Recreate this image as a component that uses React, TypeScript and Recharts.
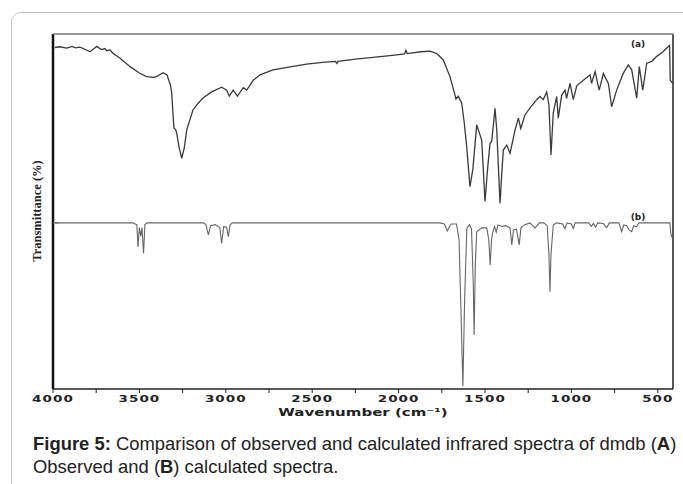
import { LineChart, Line, XAxis, YAxis, ReferenceLine, ReferenceDot } from 'recharts';

// observed spectrum (a): [wavenumber, transmittance]
const observedPoints: [number, number][] = [
  [3990, 96.2], [3960, 96.4], [3921, 96.0], [3890, 96.5], [3870, 96.1], [3844, 96.3],
  [3815, 95.7], [3786, 95.0], [3760, 96.0], [3747, 96.5], [3720, 95.6], [3700, 95.9],
  [3689, 95.3], [3670, 95.5], [3653, 94.6], [3612, 93.2], [3554, 90.8], [3500, 89.0],
  [3458, 88.0], [3420, 87.8], [3400, 88.0], [3363, 89.1], [3340, 88.5], [3320, 85.5],
  [3313, 83.4], [3305, 77.0], [3300, 73.5], [3290, 73.0], [3284, 72.0], [3270, 68.0],
  [3255, 65.0], [3240, 68.0], [3226, 73.0], [3190, 78.6], [3160, 80.5], [3132, 82.0],
  [3082, 83.7], [3024, 85.0], [2995, 84.2], [2980, 82.5], [2957, 84.2], [2933, 82.5],
  [2899, 84.9], [2879, 84.2], [2841, 87.0], [2802, 88.5], [2727, 89.9], [2620, 90.8],
  [2532, 91.5], [2440, 92.0], [2365, 92.3], [2357, 91.7], [2350, 92.3], [2250, 92.9],
  [2148, 93.4], [2050, 93.9], [1965, 94.4], [1958, 95.4], [1950, 94.5], [1870, 95.0],
  [1818, 95.2], [1779, 94.5], [1741, 92.7], [1703, 88.0], [1680, 84.0], [1668, 81.7],
  [1655, 82.5], [1635, 80.6], [1620, 75.0], [1606, 68.3], [1587, 57.0], [1570, 62.0],
  [1548, 74.4], [1519, 70.1], [1500, 52.8], [1485, 62.0], [1471, 69.2], [1461, 69.7],
  [1442, 79.1], [1432, 73.0], [1413, 52.3], [1404, 60.0], [1394, 67.3], [1374, 68.7],
  [1355, 66.4], [1326, 73.0], [1307, 76.3], [1293, 73.4], [1269, 77.2], [1240, 79.1],
  [1201, 81.5], [1182, 82.4], [1163, 81.5], [1143, 83.7], [1130, 80.0], [1118, 65.9],
  [1105, 77.7], [1085, 82.4], [1076, 76.3], [1056, 82.8], [1037, 84.2], [1028, 81.9],
  [1008, 86.1], [989, 81.5], [969, 85.4], [931, 87.0], [892, 88.5], [883, 86.1],
  [863, 89.4], [839, 84.2], [815, 88.9], [786, 86.1], [767, 79.5], [738, 84.2],
  [700, 88.9], [671, 91.3], [651, 89.9], [622, 81.9], [607, 90.8], [587, 84.2],
  [564, 91.8], [535, 92.3], [506, 93.7], [470, 95.0], [439, 96.5], [432, 96.8],
  [428, 87.0], [412, 86.0],
];

// calculated spectrum (b)
const calculatedPoints: [number, number][] = [
  [3990, 46.8], [3540, 46.8], [3515, 46.3], [3508, 40.0], [3500, 45.5], [3492, 43.0],
  [3485, 45.5], [3476, 38.2], [3468, 46.3], [3455, 46.8], [3130, 46.8], [3115, 46.3],
  [3101, 43.4], [3088, 46.0], [3060, 46.3], [3035, 45.5], [3024, 41.0], [3012, 45.8],
  [2995, 45.5], [2985, 42.9], [2975, 46.3], [2960, 46.8], [1760, 46.8], [1735, 46.5],
  [1718, 44.5], [1705, 45.8], [1695, 46.5], [1665, 46.5], [1650, 42.0], [1638, 20.0],
  [1628, 0.8], [1618, 25.0], [1605, 45.3], [1590, 46.3], [1578, 45.0], [1568, 30.0],
  [1563, 15.2], [1556, 35.0], [1548, 44.3], [1520, 45.4], [1490, 45.4], [1478, 42.0],
  [1470, 34.9], [1462, 42.0], [1456, 44.0], [1445, 45.8], [1435, 44.2], [1425, 46.2],
  [1400, 45.8], [1380, 46.0], [1355, 45.4], [1345, 40.6], [1335, 44.8], [1318, 45.0],
  [1302, 40.6], [1292, 45.4], [1270, 46.3], [1240, 46.8], [1210, 45.4], [1185, 46.8],
  [1160, 46.8], [1140, 46.0], [1130, 38.0], [1124, 27.4], [1118, 38.0], [1105, 46.2],
  [1085, 46.8], [1050, 46.5], [1037, 45.2], [1025, 46.8], [1000, 46.5], [989, 45.2],
  [978, 46.8], [900, 46.8], [885, 45.8], [873, 46.6], [860, 45.6], [848, 46.8],
  [815, 46.6], [796, 45.4], [780, 46.8], [725, 46.8], [709, 44.3], [697, 46.2],
  [680, 46.0], [666, 44.8], [651, 44.3], [640, 46.0], [622, 45.7], [610, 46.8],
  [430, 46.8], [425, 44.0], [420, 42.9], [412, 42.9],
];

const xTicks = [4000, 3750, 3500, 3250, 3000, 2750, 2500, 2250, 2000, 1750, 1500, 1250, 1000, 750, 500];

const observed = observedPoints.map(([wn, t]) => ({ wn, t }));
const calculated = calculatedPoints.map(([wn, t]) => ({ wn, t }));

const wideFont = 'DejaVu Sans, Verdana, sans-serif';

function WaveTick({ x, y, payload }: any) {
  if (payload.value % 500 !== 0) return <g />;
  return (
    <text
      transform={`translate(${x},${y + 7}) scale(1.5,1)`}
      textAnchor="middle"
      fontFamily={wideFont}
      fontWeight="bold"
      fontSize={9}
      letterSpacing={0.7}
      fill="#222"
    >
      {payload.value}
    </text>
  );
}

export default function App() {
  return (
    <div
      style={{
        position: 'absolute',
        left: 0,
        top: 0,
        width: 683,
        height: 484,
        overflow: 'hidden',
        background: '#fff',
      }}
    >
      <div
        style={{
          position: 'absolute',
          left: 11,
          top: 12,
          width: 720,
          height: 520,
          border: '1.5px solid #c4c4c4',
          borderRadius: 10,
        }}
      />
      <div style={{ position: 'absolute', left: 0, top: 0 }}>
        <LineChart width={683} height={484} margin={{ top: 34, right: 10, left: 53, bottom: 75 }}>
          <XAxis
            dataKey="wn"
            type="number"
            domain={[412, 4000]}
            reversed
            ticks={xTicks}
            interval={0}
            tick={<WaveTick />}
            tickSize={4}
            tickLine={{ stroke: '#222' }}
            axisLine={{ stroke: '#222', strokeWidth: 1.5 }}
            height={20}
            allowDataOverflow
          />
          <YAxis type="number" domain={[0, 100]} hide allowDataOverflow />
          <ReferenceLine x={4000} stroke="#111" strokeWidth={2.5} />
          <ReferenceLine x={412} stroke="#222" strokeWidth={1.5} />
          <ReferenceLine y={100} stroke="#777" strokeWidth={1.5} />
          <ReferenceLine
            segment={[{ x: 4000, y: 46.8 }, { x: 3965, y: 46.8 }]}
            stroke="#666"
          />
          <Line
            data={observed}
            dataKey="t"
            type="linear"
            stroke="#3a3a3a"
            strokeWidth={1.3}
            dot={false}
            isAnimationActive={false}
          />
          <Line
            data={calculated}
            dataKey="t"
            type="linear"
            stroke="#666"
            strokeWidth={1.1}
            dot={false}
            isAnimationActive={false}
          />
          <ReferenceDot
            x={614}
            y={97.3}
            r={0}
            label={{ value: '(a)', position: 'center', fontSize: 9, fontWeight: 'bold', fill: '#222', fontFamily: wideFont }}
          />
          <ReferenceDot
            x={614}
            y={48.6}
            r={0}
            label={{ value: '(b)', position: 'center', fontSize: 9, fontWeight: 'bold', fill: '#222', fontFamily: wideFont }}
          />
        </LineChart>
      </div>
      <div
        style={{
          position: 'absolute',
          left: 363,
          top: 407,
          transform: 'translateX(-50%) scale(1.5,1)',
          fontFamily: wideFont,
          fontWeight: 'bold',
          fontSize: 10,
          color: '#222',
          whiteSpace: 'nowrap',
        }}
      >
        Wavenumber (cm⁻¹)
      </div>
      <div
        style={{
          position: 'absolute',
          left: 37,
          top: 211,
          transform: 'translate(-50%,-50%) rotate(-90deg)',
          fontFamily: '"Liberation Serif", "Times New Roman", serif',
          fontWeight: 'bold',
          fontSize: 12.5,
          color: '#222',
          whiteSpace: 'nowrap',
        }}
      >
        Transmittance (%)
      </div>
      <div
        style={{
          position: 'absolute',
          left: 33,
          top: 432,
          fontFamily: '"Liberation Sans", Arial, sans-serif',
          fontSize: 19,
          lineHeight: '23px',
          color: '#222',
          whiteSpace: 'nowrap',
          transform: 'scaleX(0.97)',
          transformOrigin: 'left top',
        }}
      >
        <div>
          <b>Figure 5:</b> Comparison of observed and calculated infrared spectra of dmdb (<b>A</b>)
        </div>
        <div>
          Observed and (<b>B</b>) calculated spectra.
        </div>
      </div>
    </div>
  );
}
